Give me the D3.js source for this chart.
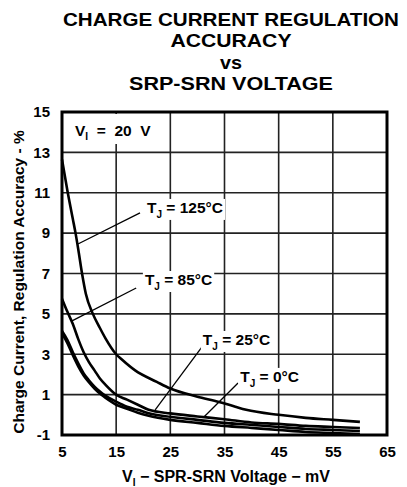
<!DOCTYPE html>
<html>
<head>
<script src="https://d3js.org/d3.v7.min.js"></script>
<style>
body { margin: 0; background: #fff; }
svg { display: block; }
text { font-family: "Liberation Sans", Arial, sans-serif; font-weight: bold; fill: #000; }
</style>
</head>
<body>
<div id="root"></div>
<script>
// values (x = mV, y = %)
const x_ticks = [5, 15, 25, 35, 45, 55, 65];
const y_ticks = [-1, 1, 3, 5, 7, 9, 11, 13, 15];

const t125 = [[5,12.65],[6,11.1],[7,9.7],[7.5,9],[8,8.2],[8.7,7],[9.4,6],[10.7,5],[12,4.3],[13,3.8],[15,3.0],[16,2.75],[18.5,2.2],[22.5,1.63],[25,1.3],[30,0.9],[34,0.64],[37,0.4],[39,0.25],[45,0.0],[50,-0.15],[55,-0.25],[60,-0.35]];
const t85 = [[5,5.75],[6,5.1],[7,4.5],[8,3.75],[9,3.1],[10,2.6],[11,2.2],[12,1.8],[13,1.5],[15,1.0],[17,0.75],[19,0.5],[21,0.25],[25,0.07],[30,-0.08],[35,-0.22],[40,-0.38],[45,-0.45],[50,-0.55],[55,-0.6],[60,-0.65]];
const t25 = [[5,4.15],[6,3.7],[7,3.1],[8,2.55],[9,2.05],[10,1.7],[11,1.4],[12,1.15],[13,0.95],[15,0.65],[17,0.4],[19,0.25],[21,0.08],[25,-0.1],[30,-0.25],[35,-0.4],[40,-0.5],[45,-0.6],[50,-0.7],[55,-0.75],[60,-0.8]];
const t0 = [[5,4.05],[6,3.55],[7,2.95],[8,2.4],[9,1.95],[10,1.6],[11,1.3],[12,1.05],[13,0.85],[15,0.5],[17,0.3],[19,0.1],[21,-0.05],[25,-0.25],[30,-0.4],[35,-0.55],[40,-0.65],[45,-0.75],[50,-0.85],[55,-0.9],[60,-0.95]];

const title_lines = ['CHARGE CURRENT REGULATION', 'ACCURACY', 'vs', 'SRP-SRN VOLTAGE'];

// label text, baseline start [x, y] in data units, leader start/end [x, y] in data units
const labels = [
    { main: 'T', sub: 'J', rest: ' = 125°C', at: [20.7, 10.0], from: [19.4, 10.0], to: [7.95, 8.46] },
    { main: 'T', sub: 'J', rest: ' = 85°C', at: [20.3, 6.43], from: [18.7, 6.28], to: [6.85, 4.65] },
    { main: 'T', sub: 'J', rest: ' = 25°C', at: [31.0, 3.46], from: [30.85, 3.36], to: [22.2, 0.24] },
    { main: 'T', sub: 'J', rest: ' = 0°C', at: [37.9, 1.63], from: [37.5, 1.58], to: [31.2, -0.11] }
];

const width = 407, height = 487;
const m_left = 62, m_right = 387, m_top = 112, m_bottom = 435;

const svg = d3.select('#root').append('svg')
    .attr('width', width)
    .attr('height', height);

const x = d3.scaleLinear().domain([5, 65]).range([m_left, m_right]);
const y = d3.scaleLinear().domain([-1, 15]).range([m_bottom, m_top]);

// title (widths stretched a bit like the original artwork)
svg.append('g')
    .selectAll('text')
    .data(title_lines)
    .join('text')
    .attr('x', 231)
    .attr('y', (d, i) => [26, 47, 68.5, 89.5][i])
    .attr('text-anchor', 'middle')
    .attr('font-size', 19)
    .attr('textLength', (d, i) => [336, 121, 22, 204][i])
    .attr('lengthAdjust', 'spacingAndGlyphs')
    .text(d => d);

// grid
svg.append('g')
    .selectAll('line')
    .data(x_ticks.slice(1, -1))
    .join('line')
    .attr('x1', d => x(d)).attr('x2', d => x(d))
    .attr('y1', m_top).attr('y2', m_bottom)
    .attr('stroke', '#222').attr('stroke-width', 1.6);
svg.append('g')
    .selectAll('line')
    .data(y_ticks.slice(1, -1))
    .join('line')
    .attr('x1', m_left).attr('x2', m_right)
    .attr('y1', d => y(d)).attr('y2', d => y(d))
    .attr('stroke', '#222').attr('stroke-width', 1.6);

// V_I box
const vi = svg.append('g');
vi.append('rect')
    .attr('x', 70).attr('y', m_top + 2)
    .attr('width', 90).attr('height', 30)
    .attr('fill', '#fff');
const vt = vi.append('text')
    .attr('x', 75).attr('y', 136)
    .attr('font-size', 15.5)
    .style('white-space', 'pre');
vt.append('tspan').text('V');
vt.append('tspan').attr('font-size', 10).attr('dy', 4).text('I');
vt.append('tspan').attr('dy', -4).text('  =  20  V');

// curves
const line = d3.line().x(d => x(d[0])).y(d => y(d[1])).curve(d3.curveMonotoneX);
svg.append('g')
    .attr('fill', 'none')
    .selectAll('path')
    .data([t125, t85, t25, t0])
    .join('path')
    .attr('d', line)
    .attr('stroke', '#000')
    .attr('stroke-width', 2.6);

// curve labels with leaders
labels.forEach(l => {
    const g = svg.append('g');
    g.append('line')
        .attr('x1', x(l.from[0])).attr('y1', y(l.from[1]))
        .attr('x2', x(l.to[0])).attr('y2', y(l.to[1]))
        .attr('stroke', '#000').attr('stroke-width', 1.3);
    const t = g.append('text')
        .attr('x', x(l.at[0])).attr('y', y(l.at[1]))
        .attr('font-size', 15.5);
    t.append('tspan').text(l.main);
    t.append('tspan').attr('font-size', 10).attr('dy', 5).text(l.sub);
    t.append('tspan').attr('dy', -5).text(l.rest);
    const bb = t.node().getBBox();
    g.insert('rect', 'text')
        .attr('x', bb.x - 2).attr('y', bb.y)
        .attr('width', bb.width + 4).attr('height', bb.height)
        .attr('fill', '#fff');
});

// frame
svg.append('rect')
    .attr('x', m_left).attr('y', m_top)
    .attr('width', m_right - m_left).attr('height', m_bottom - m_top)
    .attr('fill', 'none').attr('stroke', '#000').attr('stroke-width', 3);

// axes
const ax = svg.append('g')
    .attr('transform', `translate(0,${m_bottom})`)
    .call(d3.axisBottom(x).tickValues(x_ticks).tickSize(0).tickPadding(11).tickFormat(d => String(d)));
const ay = svg.append('g')
    .attr('transform', `translate(${m_left},0)`)
    .call(d3.axisLeft(y).tickValues(y_ticks).tickSize(0).tickPadding(12).tickFormat(d => String(d)));
[ax, ay].forEach(a => {
    a.select('.domain').remove();
    a.selectAll('text').attr('font-size', 15).attr('font-family', '"Liberation Sans", Arial, sans-serif').attr('font-weight', 'bold').attr('fill', '#000');
});

// axis titles
const xt = svg.append('text')
    .attr('x', 226).attr('y', 482)
    .attr('text-anchor', 'middle')
    .attr('font-size', 16);
xt.append('tspan').text('V');
xt.append('tspan').attr('font-size', 10).attr('dy', 4).text('I');
xt.append('tspan').attr('dy', -4).text(' \u2212 SPR-SRN Voltage \u2212 mV');

svg.append('text')
    .attr('transform', `translate(24,282) rotate(-90)`)
    .attr('text-anchor', 'middle')
    .attr('font-size', 15.5)
    .text('Charge Current, Regulation Accuracy - %');
</script>
</body>
</html>
